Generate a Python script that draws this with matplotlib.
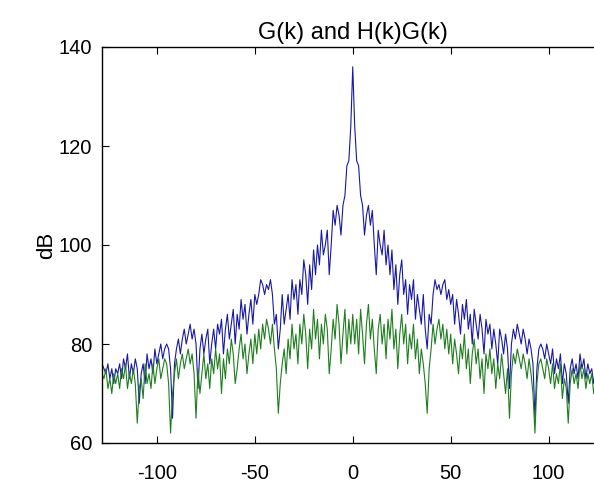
import numpy as np
import matplotlib
matplotlib.use("Agg")
import matplotlib.pyplot as plt

# frequency index k, left half (-128..-1) and right half (0..127)
k_left = list(range(-128, 0))
k_right = list(range(0, 128))

# |G(k)| in dB
g_right = [136, 124, 117, 116, 110, 108, 102, 106, 108, 104,
           107, 100, 94, 103, 100, 98, 103, 96, 100, 94,
           99, 91, 96, 88, 94, 97, 90, 93, 86, 92,
           89, 93, 85, 90, 87, 84, 90, 83, 79, 86,
           84, 90, 93, 91, 92, 90, 92, 93, 89, 91,
           88, 90, 84, 89, 86, 82, 88, 85, 89, 83,
           86, 80, 87, 84, 81, 86, 83, 78, 85, 82,
           84, 79, 83, 80, 76, 83, 81, 78, 82, 79,
           71, 80, 83, 81, 84, 82, 80, 83, 81, 78,
           81, 79, 76, 65, 75, 79, 80, 79, 77, 80,
           78, 76, 79, 74, 77, 75, 78, 72, 76, 74,
           68, 75, 77, 74, 76, 73, 78, 75, 77, 73,
           76, 74, 75, 72, 75, 73, 76, 74]
g_left = [76, 75, 74, 76, 73, 75, 72, 75, 74, 76, 73,
          77, 75, 78, 73, 76, 74, 77, 75, 68, 74,
          76, 72, 78, 75, 77, 74, 79, 76, 78, 80,
          77, 79, 80, 79, 75, 65, 76, 79, 81, 78,
          81, 83, 80, 82, 84, 81, 83, 80, 71, 79,
          82, 78, 81, 83, 76, 80, 83, 79, 84, 82,
          85, 78, 83, 86, 81, 84, 87, 80, 86, 83,
          89, 85, 88, 82, 86, 89, 84, 90, 88, 90,
          93, 92, 90, 92, 91, 93, 90, 84, 86, 79,
          83, 90, 84, 87, 90, 85, 93, 89, 92, 86,
          93, 90, 97, 94, 88, 96, 91, 99, 94, 100,
          96, 103, 98, 100, 103, 94, 100, 107, 104, 108,
          106, 102, 108, 110, 116, 117, 124]

# |H(k)G(k)| in dB
hg_right = [86, 80, 85, 78, 87, 82, 76, 84, 88, 81,
            85, 79, 74, 83, 86, 80, 84, 77, 85, 81,
            87, 79, 83, 75, 82, 86, 80, 84, 76, 82,
            79, 84, 77, 81, 74, 79, 76, 72, 66, 75,
            79, 84, 80, 83, 85, 81, 84, 79, 83, 78,
            82, 76, 81, 78, 74, 80, 77, 82, 75, 79,
            72, 78, 81, 76, 79, 73, 77, 70, 78, 75,
            79, 74, 77, 71, 76, 73, 78, 74, 70, 75,
            65, 74, 78, 76, 79, 77, 75, 78, 76, 73,
            77, 74, 70, 62, 72, 76, 77, 75, 73, 77,
            75, 72, 76, 71, 74, 72, 76, 69, 73, 71,
            64, 72, 75, 72, 74, 71, 76, 73, 75, 71,
            74, 72, 74, 70, 73, 71, 75, 73]
hg_left = [74, 73, 75, 71, 73, 70, 74, 72, 74, 71,
           75, 73, 76, 71, 74, 72, 75, 72, 64, 71,
           73, 69, 76, 72, 74, 71, 76, 72, 75, 77,
           73, 75, 77, 76, 72, 62, 70, 74, 77, 73,
           76, 78, 75, 77, 79, 76, 78, 74, 65, 75,
           70, 74, 78, 73, 76, 71, 77, 74, 79, 75,
           78, 70, 77, 73, 79, 76, 81, 78, 72, 75,
           79, 82, 77, 80, 74, 78, 81, 76, 82, 78,
           83, 79, 84, 81, 85, 83, 80, 84, 79, 75,
           66, 72, 76, 79, 74, 81, 77, 84, 79, 82,
           76, 84, 80, 86, 82, 75, 83, 79, 87, 81,
           85, 77, 84, 80, 86, 83, 74, 79, 85, 81,
           88, 84, 76, 82, 87, 78, 85, 80]

k = np.array(k_left + k_right)
g = np.array(g_left + g_right)
hg = np.array(hg_left + hg_right)

plt.rcParams["font.family"] = ["Liberation Sans", "DejaVu Sans"]
plt.rcParams["axes.unicode_minus"] = False

fig = plt.figure(figsize=(5.94, 4.84), dpi=100)
# axes runs past the right edge, the reference image is cropped there
ax = fig.add_axes([102 / 594, 41 / 484, 501.5 / 594, 396 / 484])

ax.plot(k, g, color="#1818a8", linewidth=0.8)
ax.plot(k, hg, color="#1e7e1e", linewidth=0.8)

ax.set_xlim(-128, 128)
ax.set_ylim(60, 140)
ax.set_xticks([-100, -50, 0, 50, 100])
ax.set_yticks([60, 80, 100, 120, 140])
ax.tick_params(direction="in", top=True, right=True, labelsize=14.5, length=5, width=0.8)
ax.tick_params(axis="x", pad=15)
ax.tick_params(axis="y", pad=7)
for s in ax.spines.values():
    s.set_linewidth(1.0)

ax.set_title("G(k) and H(k)G(k)", fontsize=17, pad=6)
ax.set_ylabel("dB", fontsize=16, labelpad=1)

fig.savefig("out.png", dpi=100)
